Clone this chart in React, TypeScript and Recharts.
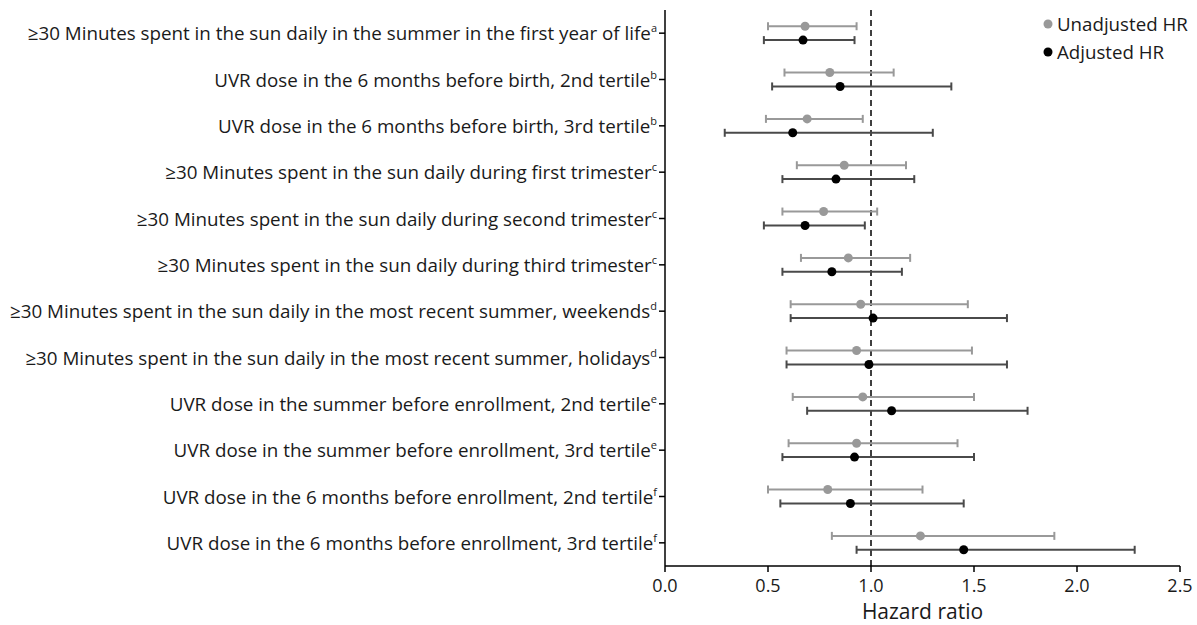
import React from 'react';
import { ScatterChart, Scatter, XAxis, YAxis, ErrorBar, ReferenceLine } from 'recharts';

const labels = [
  '≥30 Minutes spent in the sun daily in the summer in the first year of life',
  'UVR dose in the 6 months before birth, 2nd tertile',
  'UVR dose in the 6 months before birth, 3rd tertile',
  '≥30 Minutes spent in the sun daily during first trimester',
  '≥30 Minutes spent in the sun daily during second trimester',
  '≥30 Minutes spent in the sun daily during third trimester',
  '≥30 Minutes spent in the sun daily in the most recent summer, weekends',
  '≥30 Minutes spent in the sun daily in the most recent summer, holidays',
  'UVR dose in the summer before enrollment, 2nd tertile',
  'UVR dose in the summer before enrollment, 3rd tertile',
  'UVR dose in the 6 months before enrollment, 2nd tertile',
  'UVR dose in the 6 months before enrollment, 3rd tertile',
];
const superscripts = ['a', 'b', 'b', 'c', 'c', 'c', 'd', 'd', 'e', 'e', 'f', 'f'];

const unadjHR = [0.68, 0.8, 0.69, 0.87, 0.77, 0.89, 0.95, 0.93, 0.96, 0.93, 0.79, 1.24];
const unadjLow = [0.5, 0.58, 0.49, 0.64, 0.57, 0.66, 0.61, 0.59, 0.62, 0.6, 0.5, 0.81];
const unadjHigh = [0.93, 1.11, 0.96, 1.17, 1.03, 1.19, 1.47, 1.49, 1.5, 1.42, 1.25, 1.89];

const adjHR = [0.67, 0.85, 0.62, 0.83, 0.68, 0.81, 1.01, 0.99, 1.1, 0.92, 0.9, 1.45];
const adjLow = [0.48, 0.52, 0.29, 0.57, 0.48, 0.57, 0.61, 0.59, 0.69, 0.57, 0.56, 0.93];
const adjHigh = [0.92, 1.39, 1.3, 1.21, 0.97, 1.15, 1.66, 1.66, 1.76, 1.5, 1.45, 2.28];

const xTicks = [0, 0.5, 1, 1.5, 2, 2.5];
const rowIndex = labels.map((_, i) => i);

const OFFSET = 0.15;
const unadjData = labels.map((_, i) => ({
  x: unadjHR[i],
  y: i - OFFSET,
  err: [unadjHR[i] - unadjLow[i], unadjHigh[i] - unadjHR[i]],
}));
const adjData = labels.map((_, i) => ({
  x: adjHR[i],
  y: i + OFFSET,
  err: [adjHR[i] - adjLow[i], adjHigh[i] - adjHR[i]],
}));

const FONT = '"Open Sans", "Noto Sans", sans-serif';
const GRAY = '#999999';
const DARK = '#4a4a4a';
const TEXT = '#1a1a1a';

const YTick = (props: any) => {
  const { x, y, payload } = props;
  const i = Math.round(payload.value);
  if (i < 0 || i >= labels.length) return null;
  return (
    <text x={x} y={y} textAnchor="end" dominantBaseline="central" fontFamily={FONT} fontSize={18.8} fill={TEXT}>
      {labels[i]}
      <tspan fontSize={11} dy={-6}>{superscripts[i]}</tspan>
    </text>
  );
};

const legendItems = [
  { name: 'Unadjusted HR', color: GRAY },
  { name: 'Adjusted HR', color: '#000' },
];

export default function App() {
  return (
    <div style={{ position: 'absolute', left: 0, top: 0, width: 1197, height: 625, background: '#fff' }}>
      <ScatterChart width={1197} height={625} margin={{ top: 10, right: 17, left: 0, bottom: 0 }}>
        <XAxis
          type="number"
          dataKey="x"
          domain={[0, 2.5]}
          ticks={xTicks}
          tickFormatter={(v: number) => v.toFixed(1)}
          height={59}
          tickSize={6}
          tickMargin={7}
          stroke="#000"
          strokeWidth={1.5}
          tick={{ fontFamily: FONT, fontSize: 18, fill: TEXT }}
          label={{ value: 'Hazard ratio', position: 'insideBottom', offset: 6, style: { fontFamily: FONT, fontSize: 21, fill: TEXT } }}
        />
        <YAxis
          type="number"
          dataKey="y"
          domain={[-0.5, 11.5]}
          ticks={rowIndex}
          interval={0}
          reversed
          width={665}
          tickSize={6}
          stroke="#000"
          strokeWidth={1.5}
          tick={<YTick />}
        />
        <ReferenceLine x={1} stroke="#000" strokeWidth={1.5} strokeDasharray="6 4" />
        <Scatter
          name="Unadjusted HR"
          data={unadjData}
          fill={GRAY}
          isAnimationActive={false}
          shape={(p: any) => <circle cx={p.cx} cy={p.cy} r={4.5} fill={GRAY} />}
        >
          <ErrorBar dataKey="err" direction="x" width={4} stroke={GRAY} strokeWidth={2} />
        </Scatter>
        <Scatter
          name="Adjusted HR"
          data={adjData}
          fill="#000"
          isAnimationActive={false}
          shape={(p: any) => <circle cx={p.cx} cy={p.cy} r={4.5} fill="#000" />}
        >
          <ErrorBar dataKey="err" direction="x" width={4} stroke={DARK} strokeWidth={2} />
        </Scatter>
      </ScatterChart>
      <div style={{ position: 'absolute', left: 1043, top: 10, fontFamily: FONT, fontSize: 18.7, color: TEXT, lineHeight: '28px' }}>
        {legendItems.map((it) => (
          <div key={it.name} style={{ display: 'flex', alignItems: 'center', whiteSpace: 'nowrap' }}>
            <svg width={10} height={10} style={{ marginRight: 4 }}>
              <circle cx={5} cy={5} r={4.5} fill={it.color} />
            </svg>
            {it.name}
          </div>
        ))}
      </div>
    </div>
  );
}
